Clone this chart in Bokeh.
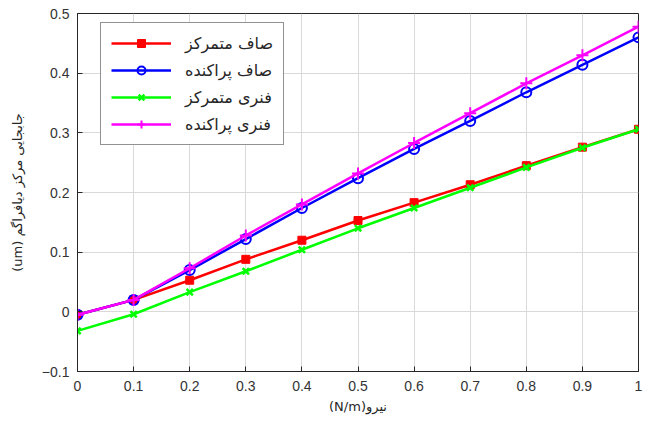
from bokeh.plotting import figure
from bokeh.models import Range1d, Legend, LegendItem, FixedTicker
from bokeh.embed import file_html
from bokeh.resources import INLINE

force = [0, 0.1, 0.2, 0.3, 0.4, 0.5, 0.6, 0.7, 0.8, 0.9, 1.0]
flat_conc = [-0.005, 0.020, 0.053, 0.088, 0.120, 0.153, 0.183, 0.213, 0.245, 0.276, 0.306]
flat_dist = [-0.005, 0.020, 0.070, 0.122, 0.174, 0.224, 0.273, 0.320, 0.368, 0.414, 0.460]
spring_conc = [-0.032, -0.004, 0.033, 0.068, 0.104, 0.140, 0.174, 0.208, 0.242, 0.275, 0.306]
spring_dist = [-0.005, 0.020, 0.073, 0.128, 0.180, 0.232, 0.283, 0.333, 0.383, 0.430, 0.478]

labels = ["صاف متمرکز", "صاف پراکنده", "فنری متمرکز", "فنری پراکنده"]
xticks = [0, 0.1, 0.2, 0.3, 0.4, 0.5, 0.6, 0.7, 0.8, 0.9, 1.0]
yticks = [-0.1, 0, 0.1, 0.2, 0.3, 0.4, 0.5]
xlabel = "(N/m)نیرو"
ylabel = "(um) جابجایی مرکز دیافراگم"

p = figure(width=643, height=416, output_backend="svg", toolbar_location=None,
           x_range=Range1d(0, 1), y_range=Range1d(-0.1, 0.5),
           min_border_left=77, min_border_right=5, min_border_top=13, min_border_bottom=42)

p.outline_line_color = "#262626"
p.outline_line_width = 1
p.background_fill_color = "white"
p.border_fill_color = "white"

for ax in (p.xaxis[0], p.yaxis[0]):
    ax.major_tick_in = 5
    ax.major_tick_out = 0
    ax.minor_tick_in = 0
    ax.minor_tick_out = 0
    ax.axis_line_color = "#262626"
    ax.major_tick_line_color = "#262626"
    ax.major_label_text_font = "Liberation Sans"
    ax.major_label_text_font_size = "14px"
    ax.major_label_text_color = "#333333"
    ax.axis_label_text_font = "DejaVu Sans"
    ax.axis_label_text_font_size = "13px"
    ax.axis_label_text_font_style = "normal"
    ax.axis_label_text_color = "#262626"

p.xaxis.ticker = FixedTicker(ticks=xticks)
p.yaxis.ticker = FixedTicker(ticks=yticks)
p.xaxis.major_label_overrides = {0: "0", 1: "1"}
p.yaxis.major_label_overrides = {0: "0"}
p.xaxis.axis_label = xlabel
p.yaxis.axis_label = ylabel
p.xaxis.axis_label_standoff = 5
p.yaxis.axis_label_standoff = 14
p.xaxis.major_label_standoff = 9
p.yaxis.major_label_standoff = 8

p.xgrid.grid_line_color = "#d9d9d9"
p.ygrid.grid_line_color = "#d9d9d9"
p.xgrid.grid_line_width = 1
p.ygrid.grid_line_width = 1

lw = 2.5
r1 = p.line(force, flat_conc, color="red", line_width=lw)
m1 = p.scatter(force, flat_conc, marker="square", size=8, color="red")
r2 = p.line(force, flat_dist, color="blue", line_width=lw)
m2 = p.scatter(force, flat_dist, marker="circle", size=10, line_color="blue", fill_color=None, line_width=2)
r3 = p.line(force, spring_conc, color="#00ff00", line_width=lw)
m3 = p.scatter(force, spring_conc, marker="x", size=9, line_color="#00ff00", line_width=2.5)
r4 = p.line(force, spring_dist, color="magenta", line_width=lw)
m4 = p.scatter(force, spring_dist, marker="cross", size=12, line_color="magenta", line_width=2)

legend = Legend(items=[
    LegendItem(label=labels[0], renderers=[r1, m1]),
    LegendItem(label=labels[1], renderers=[r2, m2]),
    LegendItem(label=labels[2], renderers=[r3, m3]),
    LegendItem(label=labels[3], renderers=[r4, m4]),
], location=(23, 226))
legend.label_text_font = "DejaVu Sans"
legend.label_text_font_size = "16px"
legend.label_text_color = "#262626"
legend.glyph_width = 60
legend.glyph_height = 20
legend.spacing = 7
legend.padding = 10
legend.label_standoff = 14
legend.border_line_color = "#262626"
legend.border_line_width = 1
legend.background_fill_color = "white"
legend.background_fill_alpha = 1
p.add_layout(legend)

open("out.html", "w").write(file_html(p, INLINE))
